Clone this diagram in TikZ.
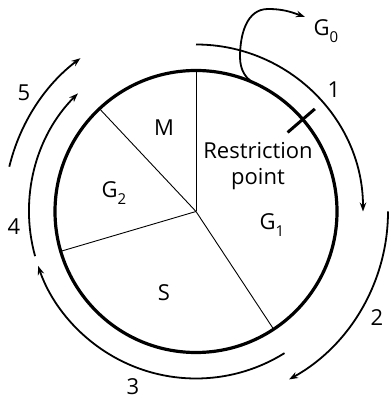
\documentclass[tikz,border=0pt]{standalone}
\usepackage{fontspec}
\setmainfont{Open Sans}
\usetikzlibrary{arrows.meta,calc}
\newcommand{\subdig}[1]{\raisebox{-0.32em}{\fontsize{15}{15}\selectfont #1}}
\begin{document}
\begin{tikzpicture}[x=1pt,y=1pt,
  cyc/.style={line width=1.8pt,-{Stealth[length=9pt,width=6.5pt]}},
  lbl/.style={font=\fontsize{22}{26}\selectfont,inner sep=0pt},
  rad/.style={line width=0.9pt}]
\useasboundingbox (0,0) rectangle (389,403);
\coordinate (c) at (196,191.5);
% radial lines
\coordinate (p90) at ($(c)+(90:141)$);
\draw[rad] (c) -- (p90);
\draw[rad] (c) -- ($(c)+(133.2:141)$) coordinate (p133);
\draw[rad] (c) -- ($(c)+(196.4:141)$) coordinate (p196);
\draw[rad] (c) -- ($(c)+(303.4:141)$) coordinate (p303);
% cell circle
\draw[line width=3.2pt] (c) circle[radius=141];
% restriction point tick
\draw[line width=3pt] ($(c)+(40.8:121)$) coordinate (t1) -- ($(c)+(40.8:157)$) coordinate (t2);
% phase arrows
\draw[cyc] ($(c)+(90:167)$) coordinate (a1s) arc[start angle=90,end angle=0,radius=167] coordinate (a1e);
\draw[cyc] ($(c)+(0:192)$) coordinate (a2s) arc[start angle=0,end angle=-61,radius=192] coordinate (a2e);
\draw[cyc] ($(c)+(-58:167)$) coordinate (a3s) arc[start angle=-58,end angle=-161,radius=167] coordinate (a3e);
\draw[cyc] ($(c)+(195.5:167)$) coordinate (a4s) arc[start angle=195.5,end angle=135,radius=167] coordinate (a4e);
\draw[cyc] ($(c)+(166.5:192)$) coordinate (a5s) arc[start angle=166.5,end angle=127,radius=192] coordinate (a5e);
% G0 exit arrow
\coordinate (g0s) at ($(c)+(64:141)$);
\coordinate (g0l) at (240,346);
\coordinate (g0t) at (268,394);
\coordinate (g0e) at (305,386);
\draw[cyc] (g0s) to[out=160,in=-90] (g0l) to[out=90,in=180] (g0t) to[out=0,in=160] (g0e);
% labels
\node[lbl] (M) at (164,275) {M};
\node[lbl] (G2) at (114,210) {G\subdig{2}};
\node[lbl] (S) at (164,110) {S};
\node[lbl] (G1) at (272,178) {G\subdig{1}};
\node[lbl,align=center] (RP) at (258,237) {Restriction\\point};
\node[lbl] (G0) at (326,372) {G\subdig{0}};
\node[lbl] (n1) at (334,313) {1};
\node[lbl] (n2) at (377,85) {2};
\node[lbl] (n3) at (133,16) {3};
\node[lbl] (n4) at (14,176) {4};
\node[lbl] (n5) at (24,310) {5};
\end{tikzpicture}
\end{document}
